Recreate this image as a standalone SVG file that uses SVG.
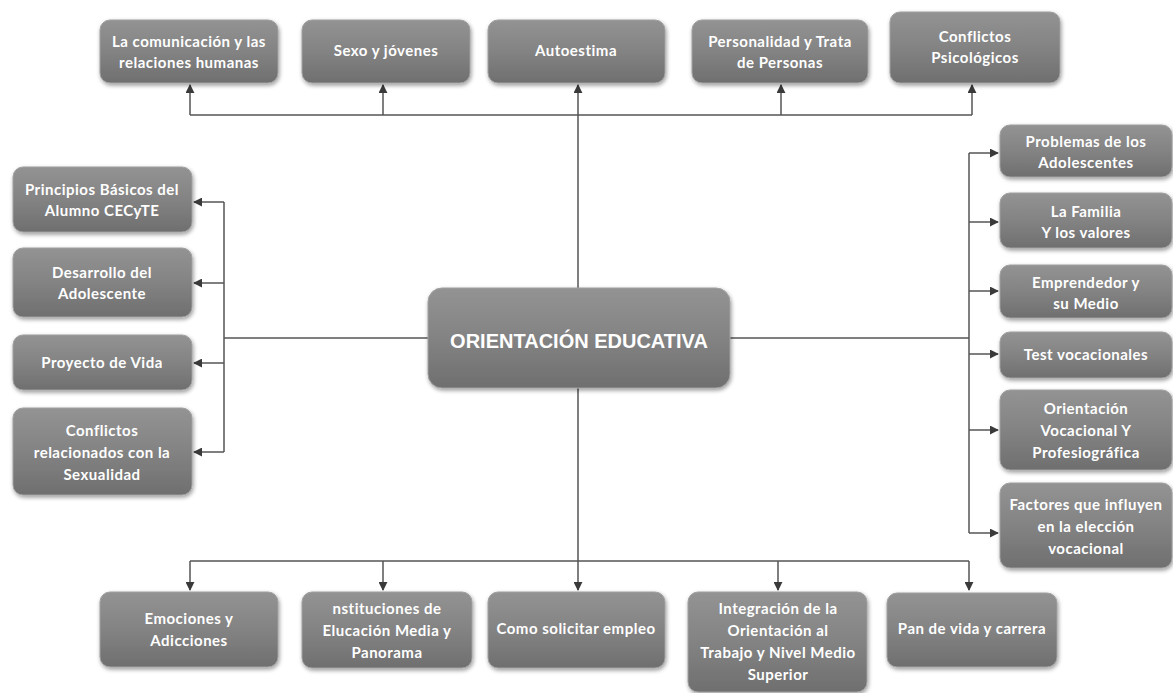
<svg xmlns="http://www.w3.org/2000/svg" width="1173" height="693" viewBox="0 0 1173 693">
<defs>
<linearGradient id="g" x1="0" y1="0" x2="0" y2="1">
<stop offset="0" stop-color="#939393"/>
<stop offset="0.5" stop-color="#838383"/>
<stop offset="1" stop-color="#6f6f6f"/>
</linearGradient>
<filter id="sh" x="-10%" y="-10%" width="125%" height="130%">
<feGaussianBlur in="SourceAlpha" stdDeviation="2"/>
<feOffset dx="1" dy="2" result="b"/>
<feComponentTransfer><feFuncA type="linear" slope="0.4"/></feComponentTransfer>
<feMerge><feMergeNode/><feMergeNode in="SourceGraphic"/></feMerge>
</filter>
<marker id="ah" viewBox="0 0 10 10" refX="9" refY="5" markerWidth="9" markerHeight="9" markerUnits="userSpaceOnUse" orient="auto">
<path d="M0,0 L10,5 L0,10 z" fill="#3a3a3a"/>
</marker>
</defs>
<style>
.box{fill:url(#g);stroke:#a0a0a0;stroke-width:1;filter:url(#sh)}
.t{font-family:Lato,"Open Sans","Liberation Sans",sans-serif;font-weight:bold;font-size:15px;fill:#ffffff;text-anchor:middle;letter-spacing:0.5px}
.c{font-family:"Liberation Sans",Arial,sans-serif;font-weight:bold;font-size:20px;fill:#ffffff;text-anchor:middle}
.ln{fill:none;stroke:#555555;stroke-width:1.5}
.ar{fill:none;stroke:#555555;stroke-width:1.5;marker-end:url(#ah)}
</style>
<rect width="1173" height="693" fill="#ffffff"/>
<g id="connectors">
<line class="ln" x1="578" y1="115" x2="578" y2="288"/>
<line class="ln" x1="190" y1="115" x2="972" y2="115"/>
<line class="ar" x1="190" y1="115" x2="190" y2="85"/>
<line class="ar" x1="383" y1="115" x2="383" y2="85"/>
<line class="ar" x1="578" y1="115" x2="578" y2="85"/>
<line class="ar" x1="781" y1="115" x2="781" y2="85"/>
<line class="ar" x1="972" y1="115" x2="972" y2="85"/>
<line class="ln" x1="428" y1="338" x2="224" y2="338"/>
<line class="ln" x1="224" y1="202" x2="224" y2="452"/>
<line class="ar" x1="224" y1="202" x2="194" y2="202"/>
<line class="ar" x1="224" y1="283" x2="194" y2="283"/>
<line class="ar" x1="224" y1="363" x2="194" y2="363"/>
<line class="ar" x1="224" y1="452" x2="194" y2="452"/>
<line class="ln" x1="730" y1="338" x2="969" y2="338"/>
<line class="ln" x1="969" y1="153" x2="969" y2="533"/>
<line class="ar" x1="969" y1="153" x2="998" y2="153"/>
<line class="ar" x1="969" y1="222" x2="998" y2="222"/>
<line class="ar" x1="969" y1="291" x2="998" y2="291"/>
<line class="ar" x1="969" y1="354" x2="998" y2="354"/>
<line class="ar" x1="969" y1="430" x2="998" y2="430"/>
<line class="ar" x1="969" y1="533" x2="998" y2="533"/>
<line class="ln" x1="578" y1="388" x2="578" y2="561"/>
<line class="ln" x1="190" y1="561" x2="969" y2="561"/>
<line class="ar" x1="190" y1="561" x2="190" y2="590"/>
<line class="ar" x1="383" y1="561" x2="383" y2="590"/>
<line class="ar" x1="578" y1="561" x2="578" y2="590"/>
<line class="ar" x1="778" y1="561" x2="778" y2="590"/>
<line class="ar" x1="969" y1="561" x2="969" y2="590"/>
</g>
<g id="center"><rect class="box" x="428" y="288" width="302" height="100" rx="14"/><text class="c" x="579" y="348">ORIENTACIÓN EDUCATIVA</text></g>
<g id="top1"><rect class="box" x="100" y="20" width="178" height="63" rx="10"/><text class="t" x="189" y="47">La comunicación y las</text><text class="t" x="189" y="68">relaciones humanas</text></g>
<g id="top2"><rect class="box" x="302" y="20" width="168" height="63" rx="10"/><text class="t" x="386" y="56">Sexo  y jóvenes</text></g>
<g id="top3"><rect class="box" x="488" y="20" width="177" height="63" rx="10"/><text class="t" x="576" y="56">Autoestima</text></g>
<g id="top4"><rect class="box" x="692" y="20" width="176" height="63" rx="10"/><text class="t" x="780" y="47">Personalidad y Trata</text><text class="t" x="780" y="68">de Personas</text></g>
<g id="top5"><rect class="box" x="890" y="12" width="170" height="71" rx="10"/><text class="t" x="975" y="42">Conflictos</text><text class="t" x="975" y="63">Psicológicos</text></g>
<g id="left1"><rect class="box" x="13" y="167" width="179" height="65" rx="10"/><text class="t" x="102" y="195">Principios Básicos del</text><text class="t" x="102" y="216">Alumno CECyTE</text></g>
<g id="left2"><rect class="box" x="13" y="248" width="179" height="69" rx="10"/><text class="t" x="102" y="278">Desarrollo del</text><text class="t" x="102" y="299">Adolescente</text></g>
<g id="left3"><rect class="box" x="13" y="335" width="179" height="55" rx="10"/><text class="t" x="102" y="368">Proyecto de Vida</text></g>
<g id="left4"><rect class="box" x="13" y="408" width="179" height="87" rx="10"/><text class="t" x="102" y="436">Conflictos</text><text class="t" x="102" y="458">relacionados con la</text><text class="t" x="102" y="480">Sexualidad</text></g>
<g id="right1"><rect class="box" x="1000" y="125" width="172" height="52" rx="10"/><text class="t" x="1086" y="147">Problemas de los</text><text class="t" x="1086" y="168">Adolescentes</text></g>
<g id="right2"><rect class="box" x="1000" y="193" width="172" height="55" rx="10"/><text class="t" x="1086" y="217">La Familia</text><text class="t" x="1086" y="238">Y los valores</text></g>
<g id="right3"><rect class="box" x="1000" y="265" width="172" height="53" rx="10"/><text class="t" x="1086" y="288">Emprendedor  y</text><text class="t" x="1086" y="309">su Medio</text></g>
<g id="right4"><rect class="box" x="1000" y="332" width="172" height="46" rx="10"/><text class="t" x="1086" y="360">Test vocacionales</text></g>
<g id="right5"><rect class="box" x="1000" y="390" width="172" height="80" rx="10"/><text class="t" x="1086" y="414">Orientación</text><text class="t" x="1086" y="436">Vocacional Y</text><text class="t" x="1086" y="458">Profesiográfica</text></g>
<g id="right6"><rect class="box" x="1000" y="483" width="172" height="85" rx="10"/><text class="t" x="1086" y="510">Factores que influyen</text><text class="t" x="1086" y="532">en la elección</text><text class="t" x="1086" y="554">vocacional</text></g>
<g id="bot1"><rect class="box" x="100" y="592" width="178" height="75" rx="10"/><text class="t" x="189" y="624">Emociones y</text><text class="t" x="189" y="646">Adicciones</text></g>
<g id="bot2"><rect class="box" x="302" y="592" width="170" height="76" rx="10"/><text class="t" x="387" y="614">nstituciones de</text><text class="t" x="387" y="636">Elucación Media y</text><text class="t" x="387" y="658">Panorama</text></g>
<g id="bot3"><rect class="box" x="488" y="592" width="177" height="76" rx="10"/><text class="t" x="576" y="634">Como solicitar empleo</text></g>
<g id="bot4"><rect class="box" x="688" y="592" width="179" height="100" rx="10"/><text class="t" x="778" y="614">Integración de la</text><text class="t" x="778" y="636">Orientación al</text><text class="t" x="778" y="658">Trabajo y Nivel Medio</text><text class="t" x="778" y="680">Superior</text></g>
<g id="bot5"><rect class="box" x="887" y="593" width="170" height="74" rx="10"/><text class="t" x="972" y="634">Pan de vida y carrera</text></g>
</svg>
